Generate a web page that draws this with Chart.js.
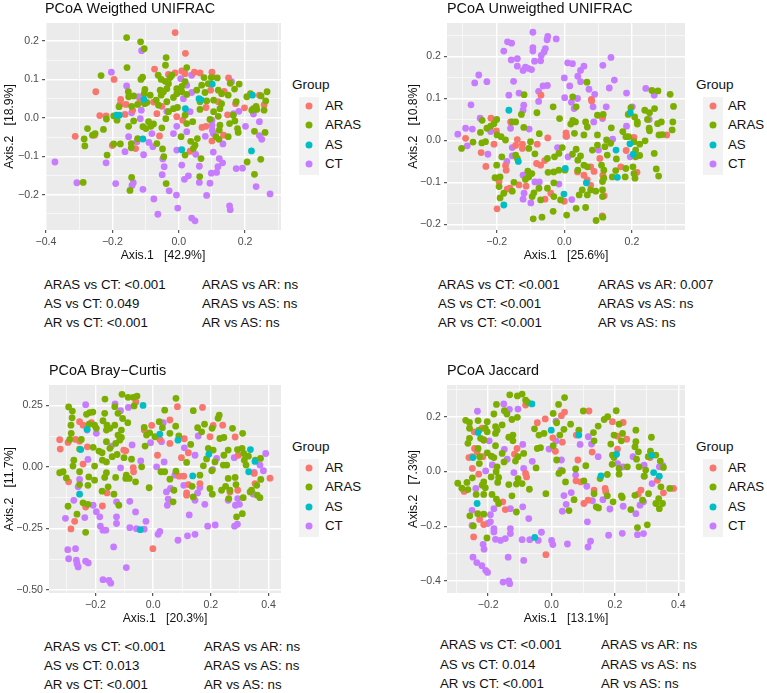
<!DOCTYPE html>
<html>
<head>
<meta charset="utf-8">
<title>PCoA</title>
<script src="https://cdn.jsdelivr.net/npm/chart.js@4/dist/chart.umd.min.js"></script>
<style>
  html, body { margin: 0; padding: 0; background: #fff; }
  body { width: 767px; height: 693px; position: relative; overflow: hidden; font-family: "Liberation Sans", sans-serif; color: #111; }
  canvas { position: absolute; }
  .txt { position: absolute; white-space: pre; line-height: 1; }
  .stat { font-size: 13.3px; transform: translateY(-50%); }
  .group { font-size: 13.5px; transform: translateY(-50%); }
  .lab { font-size: 13.3px; transform: translateY(-50%); }
  .keys { position: absolute; width: 20px; height: 78px; background: #f2f2f2; }
  .dot { position: absolute; width: 7px; height: 7px; border-radius: 50%; transform: translate(-50%, -50%); }
</style>
</head>
<body>
<script>
// === Data ===
const groups = ['AR', 'ARAS', 'AS', 'CT'];
const groupColors = ['#F8766D', '#7CAE00', '#00BFC4', '#C77CFF'];
const groupOrder = [2, 1, 0, 3]; // AS on top, CT underneath

// Weighted UNIFRAC
const wAR = [[-.011,.222],[.02,.168],[-.073,.127],[-.195,.1],[-.25,.068],[-.312,-.048],[-.254,-.045],[-.238,.006],[-.219,.005],[-.175,.048],[-.177,.035],[-.159,.035],[-.162,.009],[-.139,.02],[-.117,.042],[-.13,-.08],[-.2,-.072],[-.123,-.056],[-.076,.041],[-.051,.03],[-.066,.011],[-.058,-.047],[-.031,.113],[-.011,.117],[.009,.122],[.019,.115],[.047,.119],[.064,.117],[.1,.119],[.1,.108],[.15,.104],[.137,.069],[.096,.072],[.119,.042],[.082,.027],[-.006,.003],[.012,-.006],[.034,-.087],[.07,-.025],[.082,-.022],[.1,-.06],[.135,-.045],[.147,.008],[.171,.037],[.198,.026],[.243,.059],[.257,.034]];
const wARAS = [[-.157,.209],[-.115,.198],[-.104,.18],[-.038,.157],[-.04,.137],[.024,.131],[-.156,.131],[-.234,.11],[-.109,.106],[-.114,.1],[-.062,.111],[-.053,.1],[-.041,.095],[-.026,.105],[-.021,.111],[-.031,.089],[.076,.105],[.098,.105],[.116,.104],[.019,.094],[.069,.085],[.089,.089],[.155,.09],[.182,.088],[.168,.075],[-.036,.076],[-.006,.076],[.009,.082],[-.001,.068],[.009,.068],[-.102,.074],[-.104,.063],[-.086,.059],[-.152,.068],[-.151,.055],[-.136,.057],[-.056,.072],[-.046,.068],[-.053,.059],[-.016,.053],[-.006,.063],[.024,.061],[.054,.072],[.079,.066],[.119,.072],[.129,.063],[.149,.059],[.105,.046],[.084,.044],[.064,.042],[.129,.037],[.124,.024],[.205,.055],[.216,.063],[.248,.057],[.266,.068],[.262,.044],[.257,.02],[.233,.03],[.225,.024],[.235,.022],[.22,.02],[.173,.042],[-.18,.029],[-.124,.035],[-.142,.03],[-.103,.037],[-.096,.04],[-.068,.046],[-.061,.033],[-.036,.042],[-.031,.016],[-.016,.024],[-.004,.027],[.019,.007],[.064,.022],[.105,.016],[.119,.004],[.094,-.004],[.153,-.015],[.164,.007],[.169,-.008],[.177,-.028],[.179,-.038],[-.196,.005],[-.218,-.003],[-.186,-.006],[-.275,-.028],[-.252,-.041],[-.26,-.045],[-.227,-.03],[-.285,-.055],[-.283,-.073],[-.196,-.068],[-.176,-.068],[-.216,-.097],[-.288,-.168],[-.142,-.155],[-.147,-.189],[-.124,-.054],[-.143,-.067],[-.143,-.078],[-.151,-.022],[-.136,-.008],[-.108,-.023],[-.099,-.028],[-.091,-.01],[-.076,-.016],[-.084,-.022],[-.051,-.026],[-.039,-.002],[-.066,-.067],[-.049,-.081],[-.045,-.101],[-.038,-.171],[.007,-.049],[.024,-.015],[.042,-.01],[.019,-.097],[.036,-.061],[.049,-.071],[.044,-.08],[.056,-.054],[.067,-.106],[.063,-.153],[.112,-.049],[.121,-.056],[.124,-.019],[.122,-.032],[.149,-.049],[.206,-.115],[.247,-.108],[.228,-.147],[.228,-.035],[.26,-.038]];
const wAS = [[-.187,.007],[-.179,.007],[-.105,.048],[-.108,-.055],[.009,-.083],[.02,.024],[.061,.05],[.067,.047],[.101,.088],[.222,.059],[.219,-.086]];
const wCT = [[-.112,.175],[-.203,.119],[-.157,.083],[-.121,.055],[-.113,.02],[-.142,.013],[-.116,-.002],[-.151,-.049],[-.162,-.088],[-.219,-.117],[-.373,-.115],[-.307,-.169],[-.19,-.171],[-.137,-.169],[-.141,-.176],[-.108,-.186],[-.075,-.211],[-.063,-.251],[-.029,-.19],[-.007,-.201],[-.003,-.235],[.039,-.261],[.049,-.268],[.084,-.202],[.094,-.17],[.062,-.168],[.017,-.16],[.029,-.151],[.009,-.123],[-.05,-.148],[-.044,-.127],[-.048,-.107],[-.106,-.096],[-.078,-.075],[-.09,-.064],[-.081,-.041],[-.126,-.062],[-.016,-.041],[-.006,-.022],[-.006,-.084],[.051,-.095],[.062,-.126],[.104,-.089],[.098,-.144],[.114,-.142],[.118,-.127],[.122,-.106],[.132,-.117],[.173,-.132],[.192,-.131],[.153,-.229],[.155,-.239],[.233,-.179],[.275,-.198],[.201,-.022],[.243,-.01],[.225,.01],[.243,-.046],[.25,-.056],[.08,-.048],[.1,-.006],[.1,-.019],[.101,-.032],[.104,-.041],[.133,-.068],[.024,-.036],[.034,.016],[.014,.05],[.039,.111],[.006,.102],[.024,.085],[.039,.066],[-.036,.017],[.159,.094],[.181,.017],[.165,.011]];

// Unweighted UNIFRAC
const uAR = [[-.069,.108],[.08,.098],[.081,.094],[-.217,.053],[-.201,.023],[-.292,.005],[-.246,-.029],[-.232,-.062],[-.208,-.009],[-.159,.044],[-.139,.002],[-.144,-.012],[-.124,-.009],[-.124,-.019],[-.08,-.009],[-.049,.006],[.005,.018],[.005,.01],[-.082,-.055],[-.07,-.059],[-.058,-.048],[-.174,-.06],[-.172,-.071],[-.193,-.098],[-.169,-.116],[-.161,-.114],[-.134,-.106],[-.113,-.109],[-.199,-.163],[-.057,-.14],[-.04,-.126],[0,-.145],[.039,-.075],[.058,-.083],[.068,-.094],[.078,-.107],[.078,-.063],[.088,-.074],[.114,-.083],[.118,-.132],[.112,-.18],[.105,-.043],[.167,-.063],[.183,-.024],[.206,.007],[.215,-.076],[.303,.013],[.113,.056]];
const uARAS = [[.067,.139],[.025,.104],[.035,.08],[-.119,.109],[-.033,.08],[-.081,.066],[-.127,.062],[-.014,.052],[-.2,.05],[-.208,.04],[-.243,.048],[-.218,.034],[-.229,.029],[-.248,.019],[-.304,-.019],[-.27,-.004],[-.244,-.006],[-.233,-.003],[-.199,.013],[-.187,.009],[-.174,.001],[-.154,.044],[-.144,.044],[-.12,.031],[-.1,-.003],[-.074,.016],[-.105,-.019],[-.144,-.035],[-.185,-.039],[-.2,-.059],[-.139,-.043],[-.087,-.032],[-.205,-.089],[-.19,-.087],[-.193,-.11],[-.149,-.1],[-.19,-.137],[-.179,-.126],[-.154,-.121],[-.108,-.073],[-.115,-.093],[-.105,-.087],[-.096,-.079],[-.095,-.134],[-.09,-.125],[-.075,-.114],[-.05,-.114],[-.07,-.142],[-.092,-.187],[-.066,-.183],[-.033,-.169],[.007,-.178],[.035,-.162],[.063,-.16],[.094,-.191],[.114,-.183],[-.031,-.134],[-.011,-.142],[-.031,-.101],[-.048,-.076],[-.031,-.075],[-.016,-.071],[.002,-.071],[-.05,-.043],[-.029,-.039],[-.016,-.031],[-.006,-.017],[.035,-.021],[.024,-.033],[.048,-.037],[.04,-.047],[.058,-.059],[.04,-.071],[.068,-.063],[.044,-.13],[.053,-.118],[.068,-.13],[.078,-.118],[.093,-.121],[.113,-.118],[.113,-.134],[.113,-.098],[.117,-.09],[.11,-.059],[.117,-.071],[.142,-.087],[.152,-.072],[.18,-.087],[.182,-.067],[.203,-.063],[.206,-.079],[.209,-.09],[.127,-.035],[.154,-.044],[.083,-.023],[.098,-.011],[.098,.013],[.12,-.015],[.125,.001],[.137,-.007],[.139,.03],[.173,.021],[.182,.009],[.19,.009],[.206,-.003],[.223,-.009],[.239,-.001],[.211,-.023],[.211,-.039],[.223,-.036],[.266,-.031],[.272,-.068],[.279,-.085],[.058,.013],[.03,.017],[.025,.048],[.033,.044],[.019,.039],[.063,.044],[.068,.032],[.098,.06],[.115,.062],[.189,.062],[.197,.078],[.208,.056],[.216,.044],[.216,.039],[.238,.072],[.252,.066],[.267,.076],[.246,.05],[.251,.029],[.252,.023],[.276,.04],[.287,.044],[.28,.013],[.29,.014],[.319,.025],[.321,.044],[.323,.081],[.313,.11],[.259,.119],[.277,.118]];
const uAS = [[-.164,.072],[-.136,-.05],[-.179,-.154],[.003,-.067],[-.001,-.128],[.065,-.101],[.153,-.023],[.157,-.088],[.194,-.008],[.195,.066],[.204,-.033]];
const uCT = [[-.093,.258],[-.049,.248],[-.051,.24],[-.024,.242],[-.168,.235],[-.156,.232],[-.179,.213],[-.093,.221],[-.093,.213],[-.056,.219],[-.06,.211],[-.068,.203],[-.07,.19],[-.088,.189],[-.157,.192],[-.139,.195],[-.139,.177],[-.122,.167],[-.115,.175],[-.107,.172],[-.097,.169],[-.253,.156],[-.265,.137],[-.229,.14],[-.15,.141],[-.276,.085],[-.134,.113],[-.164,.108],[-.076,.117],[-.076,.093],[-.063,.13],[-.05,.131],[-.12,.084],[-.122,.072],[0,.149],[.01,.185],[.024,.183],[.058,.177],[.048,.167],[.04,.153],[.016,.13],[.048,.14],[.138,.198],[.114,.179],[.148,.144],[.133,.125],[.073,.122],[.09,.11],[.039,.1],[.001,.102],[.021,.091],[.029,.076],[.085,.08],[.124,.08],[.184,.113],[.241,.124],[.266,.108],[.201,.08],[.087,.044],[.113,.052],[.184,.034],[.251,.05],[-.249,.053],[-.292,.029],[-.272,.027],[-.315,.015],[-.287,-.013],[-.226,-.033],[-.218,.021],[-.104,.027],[.007,.01],[-.159,.029],[-.154,-.017],[-.154,-.037],[-.17,-.05],[-.122,-.083],[-.119,-.126],[-.122,-.14],[-.099,-.149],[-.087,-.099],[-.074,-.099],[-.016,-.104],[.022,-.141],[.011,-.039],[-.02,-.017],[.101,-.023],[.143,.003],[.195,-.039]];

// Bray-Curtis
const bAR = [[-.324,.11],[-.322,.072],[-.295,.099],[-.293,-.061],[-.272,-.221],[-.285,-.252],[-.269,.111],[-.255,.104],[-.255,.183],[-.243,.169],[-.228,.081],[-.243,.011],[-.214,.179],[-.102,.068],[-.095,.065],[-.069,-.003],[-.068,-.02],[-.06,.263],[-.031,.149],[-.005,.168],[.015,.047],[.023,.111],[-.001,-.332],[-.176,-.159],[-.16,-.106],[-.234,-.163],[.058,.19],[.084,.244],[.171,.241],[.058,.095],[.108,.114],[.122,.057],[.098,.037],[.09,-.038],[.106,-.038],[.122,-.072],[.116,-.106],[.116,-.115],[.162,-.068],[.208,.168],[.197,.122],[.241,.169],[.284,.121],[.293,-.095],[.266,-.102],[.35,-.027],[.353,-.068],[.405,-.046],[.295,.047]];
const bARAS = [[-.293,.243],[-.28,.226],[-.281,.199],[-.285,.169],[-.284,.136],[-.289,.111],[-.249,.111],[-.255,.072],[-.275,.027],[-.278,.003],[-.255,-.02],[-.324,-.024],[-.312,-.02],[-.301,-.045],[-.223,-.041],[-.203,-.054],[-.226,-.075],[-.255,-.072],[-.295,-.16],[-.264,-.192],[-.243,-.146],[-.226,-.152],[-.234,-.266],[-.231,.213],[-.22,.22],[-.209,.222],[-.222,.173],[-.203,.169],[-.197,.156],[-.167,.275],[-.168,.217],[-.174,.187],[-.16,.169],[-.162,.149],[-.15,.156],[-.133,.169],[-.122,.217],[-.108,.294],[-.087,.282],[-.069,.282],[-.056,.287],[-.066,.247],[-.133,.244],[-.106,.196],[-.088,.179],[-.11,.149],[-.122,.129],[-.11,.119],[-.162,.102],[-.13,.095],[-.116,.108],[-.15,.075],[-.208,.079],[-.188,.064],[-.177,.057],[-.176,.027],[-.162,.02],[-.142,.041],[-.125,.05],[-.101,.037],[-.075,.031],[-.203,.003],[-.162,-.024],[-.168,-.043],[-.13,-.043],[-.093,-.034],[-.095,-.047],[-.083,-.047],[-.061,-.061],[-.156,-.081],[-.177,-.099],[-.136,-.111],[-.119,-.156],[-.014,-.085],[-.04,0],[-.031,.16],[-.023,.129],[-.012,.138],[.006,.122],[-.028,.084],[.021,.183],[.032,.159],[.04,.23],[.058,.136],[.079,.278],[.078,.165],[.089,.125],[.13,.091],[.139,.228],[.154,.159],[.168,.142],[.178,.173],[.204,.156],[.229,.21],[.225,.197],[.231,.115],[.245,.119],[.275,.156],[.31,.136],[.191,.075],[.197,.068],[.185,.032],[.214,.02],[.208,.068],[.243,.007],[.255,.007],[.245,.047],[.26,.068],[.292,.07],[.308,.075],[.314,.054],[.33,.043],[.316,.027],[.322,.007],[.372,.034],[.354,.027],[.26,-.047],[.284,-.043],[.287,-.072],[.251,-.079],[.237,-.095],[.266,-.095],[.262,-.129],[.312,-.125],[.289,-.203],[.309,-.19],[.336,-.102],[.341,-.095],[.361,-.115],[.37,-.125],[.359,-.075],[.373,-.051],[.197,-.088],[.205,-.111],[.162,-.034],[.135,-.079],[.139,-.122],[.072,-.095],[.069,-.142],[.058,-.05],[.079,-.018],[.116,.018],[.174,.004],[.203,-.016],[.027,-.02],[.04,-.02]];
const bAS = [[-.251,.07],[-.229,.152],[-.255,-.111],[-.035,.249],[.023,.133],[.086,.108],[-.045,-.255],[.137,-.037],[.193,.051],[.337,.07],[.353,.022],[.331,-.02]];
const bCT = [[-.234,.252],[-.132,.255],[-.113,.228],[-.086,.241],[-.229,.149],[-.197,.136],[-.145,.084],[-.073,.089],[-.226,.03],[-.255,-.051],[-.26,-.081],[-.275,-.136],[-.304,-.209],[-.208,-.156],[-.197,-.182],[-.185,-.203],[-.237,-.206],[-.127,-.142],[-.081,-.14],[-.127,-.203],[-.127,-.23],[-.061,-.183],[-.025,-.221],[-.031,-.253],[-.058,-.251],[-.081,-.247],[-.183,-.241],[-.174,-.257],[-.164,-.257],[-.296,-.336],[-.269,-.332],[-.293,-.373],[-.266,-.379],[-.264,-.393],[-.26,-.406],[-.234,-.383],[-.225,-.39],[-.137,-.325],[-.093,-.409],[-.174,-.458],[-.153,-.461],[-.147,-.472],[.023,-.262],[.017,-.274],[.086,-.298],[.119,-.28],[.145,-.274],[.125,-.195],[.189,-.241],[.215,-.236],[.282,-.241],[.292,-.233],[.285,-.156],[.299,-.152],[.293,-.129],[.179,-.152],[.145,-.136],[.154,-.106],[.162,-.084],[.106,-.075],[.046,-.102],[.052,-.131],[.049,-.156],[.06,-.088],[-.113,-.004],[-.043,.024],[-.009,.098],[.029,.102],[.035,.179],[.038,.02],[.012,0],[.075,-.034],[.108,.077],[.145,.047],[.156,.125],[.22,.034],[.206,-.011],[.281,.037],[.39,.054],[.37,.007],[.382,-.016],[.35,-.023],[.26,-.136],[.347,-.111]];

// Jaccard
const jAR = [[-.276,-.073],[-.261,.051],[-.251,.054],[-.244,.145],[-.243,.084],[-.235,.072],[-.219,.158],[-.214,.115],[-.217,.054],[-.25,.011],[-.23,-.01],[-.082,.243],[-.109,.084],[-.117,.063],[-.082,-.007],[-.079,-.02],[-.154,-.111],[-.146,-.139],[-.227,-.175],[-.214,-.194],[-.246,-.239],[-.018,-.304],[-.045,.178],[-.02,.192],[.031,.204],[.041,.217],[.004,.123],[.034,.107],[.012,.074],[.078,.133],[.083,.042],[.077,-.034],[.092,-.038],[.118,.221],[.192,.182],[.226,.179],[.208,.129],[.237,.118],[.208,.082],[.128,.071],[.134,-.068],[.169,-.062],[.171,-.074],[.102,-.117],[.115,-.105],[.282,-.068],[.273,-.083],[.334,-.032],[.353,-.078],[.385,-.062],[.311,.051]];
const jARAS = [[-.296,-.043],[-.283,-.061],[-.267,-.04],[-.264,-.066],[-.271,.187],[-.259,.179],[-.259,.158],[-.259,.121],[-.264,.103],[-.232,.186],[-.229,.151],[-.224,.121],[-.232,.084],[-.227,.054],[-.25,-.023],[-.228,.029],[-.214,.115],[-.203,.182],[-.209,.158],[-.203,.145],[-.174,.245],[-.182,.21],[-.177,.164],[-.172,.151],[-.177,.139],[-.156,.17],[-.149,.222],[-.141,.21],[-.132,.28],[-.108,.276],[-.093,.283],[-.082,.261],[-.075,.252],[-.125,.19],[-.108,.198],[-.122,.133],[-.135,.125],[-.122,.112],[-.177,.094],[-.156,.066],[-.203,.068],[-.19,.056],[-.182,.051],[-.15,.035],[-.172,.017],[-.175,-.001],[-.167,-.022],[-.17,-.04],[-.191,-.02],[-.214,-.038],[-.219,-.05],[-.209,-.059],[-.238,-.084],[-.214,-.084],[-.188,-.084],[-.174,-.101],[-.167,-.117],[-.125,-.089],[-.135,-.048],[-.106,-.026],[-.111,-.046],[-.093,-.044],[-.07,-.065],[-.088,.066],[-.114,.038],[-.106,.054],[-.049,.013],[-.045,.084],[-.035,.087],[-.054,.156],[-.04,.133],[-.024,.139],[.005,.212],[.016,.178],[.022,.245],[.041,.27],[.039,.154],[.026,.133],[.06,.173],[.016,.042],[.005,.094],[-.018,-.081],[-.111,-.148],[-.258,-.162],[-.233,-.154],[-.214,-.156],[-.247,-.199],[-.204,-.243],[.023,-.007],[.034,.002],[.044,-.038],[.076,.009],[.108,.021],[.071,-.103],[.055,-.143],[.102,-.034],[.134,-.081],[.141,-.129],[.148,-.133],[.194,-.111],[.176,-.089],[.176,-.011],[.153,-.026],[.086,.151],[.1,.221],[.132,.142],[.134,.112],[.147,.166],[.166,.19],[.177,.2],[.204,.222],[.197,.133],[.213,.173],[.224,.139],[.22,.112],[.187,.1],[.192,.06],[.197,.051],[.191,.026],[.213,.011],[.213,-.01],[.239,.017],[.266,.151],[.266,.109],[.263,.09],[.274,.072],[.268,.045],[.276,.017],[.315,.125],[.312,.074],[.305,.054],[.329,.06],[.343,.038],[.353,.015],[.297,.005],[.292,-.017],[.263,-.087],[.22,-.089],[.223,-.095],[.25,-.139],[.271,-.205],[.302,-.195],[.287,-.105],[.306,-.081],[.345,-.056],[.373,-.062],[.338,-.099],[.329,-.117],[.34,-.136],[.35,-.117]];
const jAS = [[-.062,.247],[-.001,.151],[.086,.133],[.156,-.016],[-.235,-.117],[-.053,-.241],[.316,.059],[.322,-.004],[.34,-.017],[-.248,.051],[-.232,.142],[.205,.063]];
const jCT = [[-.234,.22],[-.151,.247],[-.133,.227],[-.106,.228],[.014,.184],[-.197,.112],[-.149,.081],[-.14,.045],[-.187,.024],[-.208,.002],[-.091,.099],[-.061,.037],[-.088,.011],[-.119,-.004],[-.239,-.062],[-.251,-.142],[-.251,-.197],[-.182,-.136],[-.193,-.158],[-.13,-.136],[-.091,-.129],[-.072,-.172],[-.201,-.19],[-.193,-.184],[-.182,-.209],[-.182,-.221],[-.13,-.209],[-.13,-.227],[-.177,-.248],[-.161,-.252],[-.146,-.245],[-.093,-.249],[-.069,-.249],[-.042,-.252],[-.032,-.222],[0,-.252],[.004,-.267],[-.216,-.266],[-.213,-.284],[-.248,-.313],[-.236,-.333],[-.22,-.344],[-.208,-.361],[-.202,-.369],[-.137,-.313],[-.088,-.325],[-.153,-.404],[-.135,-.4],[-.132,-.41],[.05,-.265],[.115,-.276],[.123,-.255],[.113,-.184],[.18,-.233],[.223,-.226],[.271,-.231],[.29,-.227],[.266,-.154],[.279,-.123],[.29,-.111],[.226,-.127],[.184,-.137],[.162,-.103],[.129,-.107],[.062,-.077],[.039,-.088],[.046,-.12],[.034,-.145],[.031,.042],[.029,.005],[-.008,.082],[.014,.111],[.076,-.013],[.09,.099],[.116,.127],[.126,.1],[.147,.054],[.111,-.054],[.208,.029],[.226,.017],[.257,.054],[.292,.023],[.317,-.044],[.34,.017],[.351,.021],[.293,-.017]];

// tick labels
const wXTicks = [-0.4, -0.2, 0, 0.2];
const wYTicks = [-0.2, -0.1, 0, 0.1, 0.2];
const uXTicks = [-0.2, 0, 0.2];
const uYTicks = [-0.2, -0.1, 0, 0.1, 0.2];
const bXTicks = [-0.2, 0, 0.2, 0.4];
const bYTicks = [-0.5, -0.25, 0, 0.25];
const jXTicks = [-0.2, 0, 0.2, 0.4];
const jYTicks = [-0.4, -0.2, 0, 0.2];

// stats under each panel
const wStats = ['ARAS vs CT: <0.001', 'AS vs CT: 0.049', 'AR vs CT: <0.001', 'ARAS vs AR: ns', 'ARAS vs AS: ns', 'AR vs AS: ns'];
const uStats = ['ARAS vs CT: <0.001', 'AS vs CT: <0.001', 'AR vs CT: <0.001', 'ARAS vs AR: 0.007', 'ARAS vs AS: ns', 'AR vs AS: ns'];
const bStats = ['ARAS vs CT: <0.001', 'AS vs CT: 0.013', 'AR vs CT: <0.001', 'ARAS vs AR: ns', 'ARAS vs AS: ns', 'AR vs AS: ns'];
const jStats = ['ARAS vs CT: <0.001', 'AS vs CT: 0.014', 'AR vs CT: <0.001', 'ARAS vs AR: ns', 'ARAS vs AS: ns', 'AR vs AS: ns'];

// === Panel layout ===
const panels = [
  { title: 'PCoA Weigthed UNIFRAC', xTitle: 'Axis.1   [42.9%]', yTitle: 'Axis.2   [18.9%]',
    series: [wAR, wARAS, wAS, wCT], xTicks: wXTicks, yTicks: wYTicks, xRange: [-0.403, 0.308], yRange: [-0.292, 0.247], yDigits: 1,
    canvasLeft: 2, canvasTop: 0, plotLeft: 45, plotRight: 281, plotTop: 23, plotBottom: 230,
    groupX: 292, groupY: 85, keysX: 299, keysY: 97, labelX: 325,
    stats: wStats, statX: [44, 202], statY: [285, 304, 323] },
  { title: 'PCoA Unweigthed UNIFRAC', xTitle: 'Axis.1   [25.6%]', yTitle: 'Axis.2   [10.8%]',
    series: [uAR, uARAS, uAS, uCT], xTicks: uXTicks, yTicks: uYTicks, xRange: [-0.347, 0.357], yRange: [-0.2136, 0.28], yDigits: 1,
    canvasLeft: 406, canvasTop: 0, plotLeft: 447, plotRight: 685, plotTop: 23, plotBottom: 230,
    groupX: 696, groupY: 85, keysX: 703, keysY: 97, labelX: 728,
    stats: uStats, statX: [438, 598], statY: [285, 304, 323] },
  { title: 'PCoA Bray\u2212Curtis', xTitle: 'Axis.1   [20.3%]', yTitle: 'Axis.2   [11.7%]',
    series: [bAR, bARAS, bAS, bCT], xTicks: bXTicks, yTicks: bYTicks, xRange: [-0.361, 0.443], yRange: [-0.512, 0.332], yDigits: 2,
    canvasLeft: 2, canvasTop: 362, plotLeft: 49, plotRight: 281, plotTop: 385, plotBottom: 593,
    groupX: 292, groupY: 447, keysX: 299, keysY: 459, labelX: 325,
    stats: bStats, statX: [44, 204], statY: [647, 666, 685] },
  { title: 'PCoA Jaccard', xTitle: 'Axis.1   [13.1%]', yTitle: 'Axis.2   [7.3%]',
    series: [jAR, jARAS, jAS, jCT], xTicks: jXTicks, yTicks: jYTicks, xRange: [-0.33, 0.421], yRange: [-0.444, 0.316], yDigits: 1,
    canvasLeft: 406, canvasTop: 362, plotLeft: 447, plotRight: 685, plotTop: 385, plotBottom: 593,
    groupX: 696, groupY: 447, keysX: 703, keysY: 459, labelX: 728,
    stats: jStats, statX: [440, 601], statY: [645, 665, 684] }
];

// === Helpers ===
function addText(cls, text, x, y) {
  const el = document.createElement('div');
  el.className = 'txt ' + cls;
  el.textContent = text;
  el.style.left = x + 'px';
  el.style.top = y + 'px';
  document.body.appendChild(el);
}

// major ticks plus the midway minor lines ggplot draws
function buildTicks(scale, values) {
  const step = values[1] - values[0];
  const out = values.map(v => ({ value: v, major: true }));
  for (let i = -1; i < values.length; i++) {
    const mid = values[0] + step * (i + 0.5);
    if (mid > scale.min && mid < scale.max) out.push({ value: mid, major: false });
  }
  scale.ticks = out.sort((a, b) => a.value - b.value);
}

function fmt(v, digits) {
  return v.toFixed(digits).replace('-', '\u2212');
}

const panelBg = {
  id: 'panelBg',
  beforeDraw(chart) {
    const a = chart.chartArea;
    chart.ctx.fillStyle = '#EBEBEB';
    chart.ctx.fillRect(a.left, a.top, a.right - a.left, a.bottom - a.top);
  }
};

function axisOptions(range, tickValues, digits, titleText) {
  return {
    type: 'linear',
    bounds: 'data',
    min: range[0],
    max: range[1],
    afterBuildTicks: scale => buildTicks(scale, tickValues),
    border: { display: false },
    grid: {
      color: '#fff',
      lineWidth: c => (c.tick && c.tick.major ? 1.4 : 0.6),
      tickLength: 3,
      tickWidth: 1,
      tickColor: c => (c.tick && c.tick.major ? '#333' : 'rgba(0,0,0,0)')
    },
    ticks: {
      autoSkip: false,
      maxRotation: 0,
      padding: 3,
      color: '#4D4D4D',
      font: { family: 'Liberation Sans', size: 10.6 },
      callback: (v, i, all) => (all[i].major ? fmt(v, digits) : '')
    },
    title: {
      display: true,
      text: titleText,
      color: '#111',
      font: { family: 'Liberation Sans', size: 12.2 },
      padding: 0
    }
  };
}

// === Draw panels ===
panels.forEach(p => {
  const canvas = document.createElement('canvas');
  const w = p.plotRight + 4 - p.canvasLeft;
  const h = p.plotBottom + 33 - p.canvasTop;
  canvas.width = w;
  canvas.height = h;
  canvas.style.left = p.canvasLeft + 'px';
  canvas.style.top = p.canvasTop + 'px';
  canvas.style.width = w + 'px';
  canvas.style.height = h + 'px';
  document.body.appendChild(canvas);

  const xAxis = axisOptions(p.xRange, p.xTicks, 1, p.xTitle);
  xAxis.afterFit = s => { s.height = 33; };
  const yAxis = axisOptions(p.yRange, p.yTicks, p.yDigits, p.yTitle);
  yAxis.afterFit = s => { s.width = p.plotLeft - p.canvasLeft; };

  new Chart(canvas.getContext('2d'), {
    type: 'scatter',
    data: {
      datasets: groups.map((g, i) => ({
        label: g,
        data: p.series[i],
        order: groupOrder[i],
        backgroundColor: groupColors[i],
        borderWidth: 0,
        pointRadius: 3.4,
        pointHoverRadius: 3.4
      }))
    },
    options: {
      responsive: false,
      animation: false,
      layout: { autoPadding: false, padding: { left: 0, right: 4, top: 0, bottom: 0 } },
      scales: { x: xAxis, y: yAxis },
      plugins: {
        legend: { display: false },
        tooltip: { enabled: false },
        title: {
          display: true,
          text: p.title,
          align: 'start',
          fullSize: false,
          color: '#111',
          font: { family: 'Liberation Sans', size: 14.4, weight: 'normal', lineHeight: 1.2 },
          padding: { top: 0, bottom: p.plotTop - p.canvasTop - 17.28 }
        }
      }
    },
    plugins: [panelBg]
  });

  // legend
  addText('group', 'Group', p.groupX, p.groupY);
  const keys = document.createElement('div');
  keys.className = 'keys';
  keys.style.left = p.keysX + 'px';
  keys.style.top = p.keysY + 'px';
  document.body.appendChild(keys);
  groups.forEach((g, i) => {
    const y = p.keysY + 9 + i * 19.4;
    const dot = document.createElement('div');
    dot.className = 'dot';
    dot.style.background = groupColors[i];
    dot.style.left = (p.keysX + 9.7) + 'px';
    dot.style.top = y + 'px';
    document.body.appendChild(dot);
    addText('lab', g, p.labelX, y);
  });

  // stats
  p.stats.forEach((s, i) => {
    const col = i < 3 ? 0 : 1;
    addText('stat', s, p.statX[col], p.statY[i % 3]);
  });
});
</script>
</body>
</html>
